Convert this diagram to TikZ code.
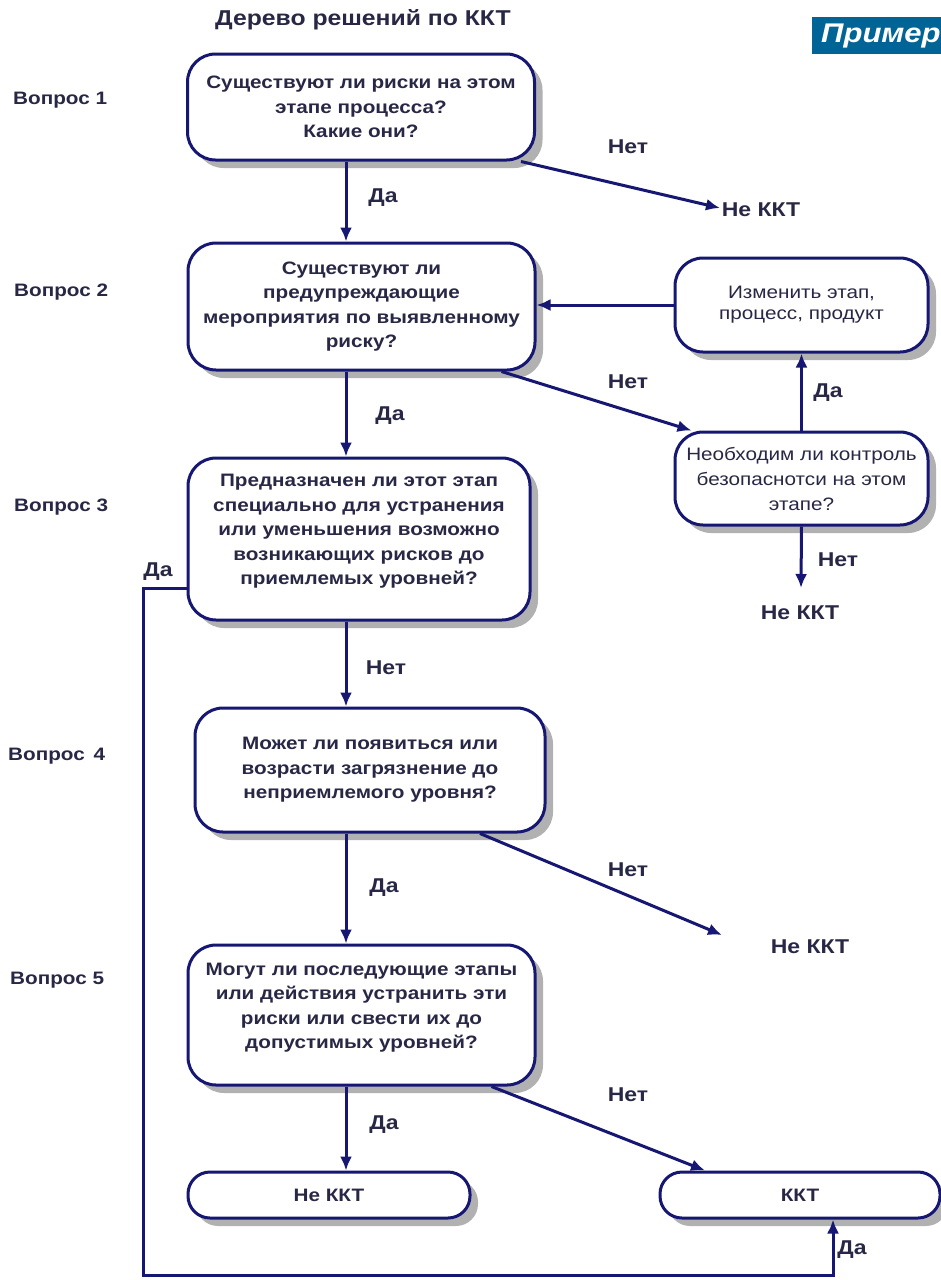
\documentclass[tikz,border=0pt]{standalone}
\usepackage{fontspec}
\setmainfont[FakeStretch=1.15]{Liberation Sans}
\usetikzlibrary{arrows.meta,shadows,calc}
\definecolor{lin}{RGB}{22,22,115}
\definecolor{txt}{RGB}{40,40,70}
\definecolor{ban}{RGB}{0,100,150}
\tikzset{
  box/.style={draw=lin,line width=3pt,fill=white,rounded corners=28pt,align=center,
    text=txt,font=\bfseries\fontsize{18}{24.5}\selectfont,inner sep=2pt,
    drop shadow={shadow xshift=8pt,shadow yshift=-8pt,fill=black!38,opacity=0.8}},
  pill/.style={box,rounded corners=22pt},
  thinbox/.style={box,font=\fontsize{18}{21}\selectfont},
  arr/.style={draw=lin,line width=3pt,-{Latex[length=14pt,width=12pt]}},
  lab/.style={text=txt,font=\bfseries\fontsize{20}{22}\selectfont,inner sep=0pt},
  qlab/.style={text=txt,font=\bfseries\fontsize{18}{20}\selectfont,inner sep=0pt,anchor=west},
}
\begin{document}
\begin{tikzpicture}[x=1pt,y=-1pt]
\useasboundingbox (0,0) rectangle (941,1280);
\fill[white] (0,0) rectangle (941,1280);
\coordinate (col) at (346,0);
% title and banner
\node[text=txt,font=\bfseries\fontsize{21.5}{24}\selectfont,inner sep=0pt] (title) at (363,20) {Дерево решений по ККТ};
\fill[ban] (812,17) rectangle (941,54);
\node[anchor=west,text=white,font=\bfseries\itshape\fontsize{27}{30}\selectfont,inner sep=0pt] (ex) at (821,36) {Пример};
% question labels
\node[qlab] (v1) at (13,100) {Вопрос 1};
\node[qlab] (v2) at (14,292) {Вопрос 2};
\node[qlab] (v3) at (14,507) {Вопрос 3};
\node[qlab] (v4) at (8,756) {Вопрос \,4};
\node[qlab] (v5) at (10,980) {Вопрос 5};
% boxes
\node[box,minimum width=347pt,minimum height=106pt] (q1) at (361,107)
  {Существуют ли риски на этом\\этапе процесса?\\Какие они?};
\node[box,minimum width=347pt,minimum height=127pt] (q2) at (361.5,306.5)
  {Существуют ли\\предупреждающие\\мероприятия по выявленному\\риску?};
\node[box,minimum width=342pt,minimum height=162pt] (q3) at (359,539)
  {Предназначен ли этот этап\\специально для устранения\\или уменьшения возможно\\возникающих рисков до\\приемлемых уровней?\\[-6pt]};
\node[box,minimum width=350pt,minimum height=124pt] (q4) at (370,770)
  {Может ли появиться или\\возрасти загрязнение до\\неприемлемого уровня?};
\node[box,minimum width=347pt,minimum height=140pt] (q5) at (361.5,1015)
  {Могут ли последующие этапы\\или действия устранить эти\\риски или свести их до\\допустимых уровней?\\[-6pt]};
\node[pill,minimum width=282pt,minimum height=46pt] (nkb) at (329,1195) {Не ККТ};
\node[pill,minimum width=280pt,minimum height=46pt] (kkt) at (800,1195) {ККТ};
\node[thinbox,minimum width=253pt,minimum height=94pt] (izm) at (801.5,305)
  {Изменить этап,\\процесс, продукт};
\node[thinbox,font=\fontsize{18}{25}\selectfont,minimum width=253pt,minimum height=93pt] (neo) at (801.5,478.5)
  {Необходим ли контроль\\безопаснотси на этом\\этапе?};
% terminal labels
\node[lab] (nk1) at (761,210) {Не ККТ};
\node[lab] (nk2) at (800,613) {Не ККТ};
\node[lab] (nk4) at (810,947) {Не ККТ};
\coordinate (e1) at (720,208);
\coordinate (e2) at (801,588);
\coordinate (e4) at (722,935);
% connectors
\draw[arr] (q1.south -| col) -- (q2.north -| col);
\node[lab] (d1) at (383,198) {Да};
\draw[arr] ([xshift=160pt]q1.south) -- (e1);
\node[lab] (n1) at (628,147) {Нет};
\draw[arr] (q2.south -| col) -- (q3.north -| col);
\node[lab] (d2) at (390,416) {Да};
\draw[arr] ([xshift=140pt]q2.south) -- ([xshift=-110pt]neo.north);
\node[lab] (n2) at (628,382) {Нет};
\draw[arr] (neo.north) -- (izm.south);
\node[lab] (d4) at (828,393) {Да};
\draw[arr] (izm.west) -- (q2.east |- izm.west);
\draw[arr] (neo.south) -- (e2);
\node[lab] (n3) at (838,560) {Нет};
\draw[arr] (q3.south -| col) -- (q4.north -| col);
\node[lab] (n6) at (386,668) {Нет};
\draw[arr] (q3.west |- 0,588) -- (143,588) |- (833,1275) -- ([xshift=33pt]kkt.south);
\node[lab] (d3) at (158,572) {Да};
\node[lab] (d6) at (852,1250) {Да};
\draw[arr] (q4.south -| col) -- (q5.north -| col);
\node[lab] (d5) at (384,888) {Да};
\draw[arr] ([xshift=110pt]q4.south) -- (e4);
\node[lab] (n4) at (628,870) {Нет};
\draw[arr] (q5.south -| col) -- (nkb.north -| col);
\node[lab] (d7) at (384,1125) {Да};
\draw[arr] ([xshift=130pt]q5.south) -- ([xshift=-95pt]kkt.north);
\node[lab] (n5) at (628,1095) {Нет};
\end{tikzpicture}
\end{document}
